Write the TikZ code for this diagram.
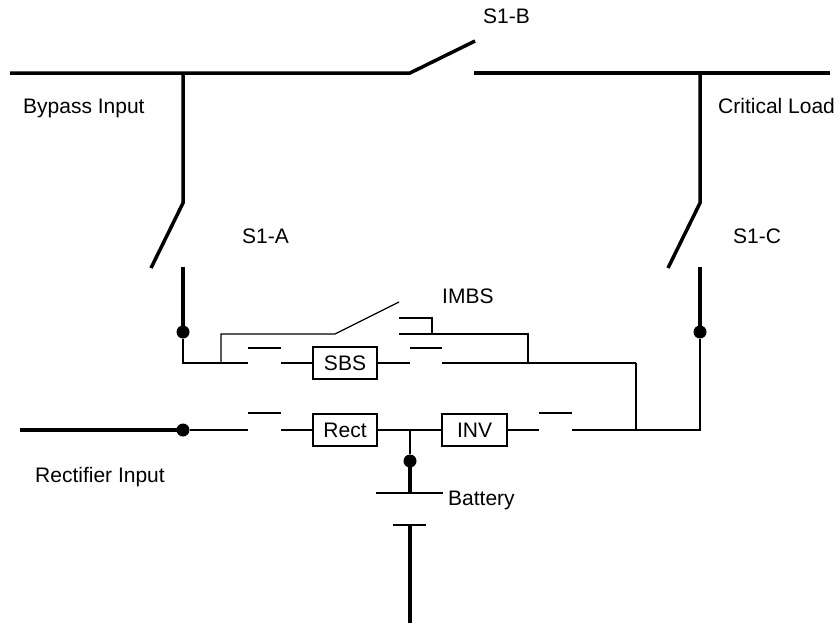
\documentclass[tikz,border=0pt]{standalone}
\usepackage{fontspec}
\setmainfont{Liberation Sans}
\begin{document}
\begin{tikzpicture}[x=1pt,y=-1pt,
  thick line/.style={line width=3.5pt},
  thin line/.style={line width=1.2pt},
  dotmark/.style={circle,fill=black,inner sep=0pt,minimum size=13pt},
  unitbox/.style={draw,line width=1.2pt,minimum width=64pt,minimum height=32pt,inner sep=0pt,font=\fontsize{21}{25}\selectfont},
  lbl/.style={anchor=base west,inner sep=0pt,font=\fontsize{21}{25}\selectfont}]
\useasboundingbox (0,0) rectangle (840,624);
% top bus
\coordinate (tl) at (10,73);
\coordinate (bjL) at (183,73);
\coordinate (sbL) at (410,73);
\coordinate (sbT) at (475,41);
\coordinate (sbR) at (474,73);
\coordinate (cjR) at (700,73);
\coordinate (tr) at (830,73);
\draw[thick line] (tl) -- (sbL) -- (sbT);
\draw[thick line] (sbR) -- (tr);
% S1-A
\coordinate (aP) at (183,203);
\coordinate (aB) at (151,268);
\coordinate (aC) at (183,267);
\node[dotmark] (dA) at (183,332) {};
\draw[thick line] (bjL) -- (aP) -- (aB);
\draw[thick line] (aC) -- (dA.center);
% S1-C
\coordinate (cP) at (700,203);
\coordinate (cB) at (668,268);
\coordinate (cC) at (700,267);
\node[dotmark] (dC) at (700,332) {};
\draw[thick line] (cjR) -- (cP) -- (cB);
\draw[thick line] (cC) -- (dC.center);
% bypass path
\node[unitbox] (sbs) at (345,363) {SBS};
\coordinate (b1) at (183,363);
\coordinate (b2) at (248,363);
\coordinate (b3) at (281,363);
\coordinate (b4) at (410,363);
\coordinate (b5) at (442,363);
\coordinate (b6) at (636,363);
\coordinate (k1a) at (248,348);
\coordinate (k1b) at (281,348);
\coordinate (k2a) at (410,348);
\coordinate (k2b) at (442,348);
\draw[thin line] (dA) -- (b1) -- (b2);
\draw[thin line] (k1a) -- (k1b);
\draw[thin line] (b3) -- (sbs.west);
\draw[thin line] (sbs.east) -- (b4);
\draw[thin line] (k2a) -- (k2b);
\draw[thin line] (b5) -- (b6);
% IMBS frame
\coordinate (f1) at (221,363);
\coordinate (f2) at (221,334);
\coordinate (f3) at (335,334);
\coordinate (f4) at (399,302);
\coordinate (f5) at (399,318);
\coordinate (f6) at (432,318);
\coordinate (f7) at (432,334);
\coordinate (f8) at (399,334);
\coordinate (f9) at (528,334);
\coordinate (f10) at (528,363);
\draw[thin line] (f1) -- (f2) -- (f3) -- (f4);
\draw[thin line] (f5) -- (f6) -- (f7);
\draw[thin line] (f8) -- (f9) -- (f10);
% rectifier path
\node[dotmark] (dR) at (183,430) {};
\coordinate (rin) at (20,430);
\node[unitbox] (rect) at (345,430) {Rect};
\node[unitbox,minimum width=65pt] (inv) at (474.5,430) {INV};
\coordinate (r2) at (248,430);
\coordinate (r3) at (281,430);
\coordinate (kr1) at (248,413);
\coordinate (kr2) at (281,413);
\coordinate (jB) at (410,430);
\coordinate (r5) at (539,430);
\coordinate (r6) at (572,430);
\coordinate (ki1) at (539,413);
\coordinate (ki2) at (572,413);
\coordinate (r7) at (636,430);
\coordinate (r8) at (700,430);
\draw[thick line] (rin) -- (dR.center);
\draw[thin line] (dR) -- (r2);
\draw[thin line] (kr1) -- (kr2);
\draw[thin line] (r3) -- (rect.west);
\draw[thin line] (rect.east) -- (inv.west);
\draw[thin line] (inv.east) -- (r5);
\draw[thin line] (ki1) -- (ki2);
\draw[thin line] (r6) -- (r8) -- (dC);
\draw[thin line] (b6) -- (r7);
% battery
\node[dotmark] (dB) at (410,461) {};
\draw[thin line] (jB) -- (dB);
\coordinate (p1) at (410,493);
\coordinate (p1a) at (376,493);
\coordinate (p1b) at (443,493);
\coordinate (p2) at (410,525);
\coordinate (p2a) at (393,525);
\coordinate (p2b) at (426,525);
\coordinate (gnd) at (410,623);
\draw[thick line] (dB.center) -- (p1);
\draw[thin line] (p1a) -- (p1b);
\draw[thin line] (p2a) -- (p2b);
\draw[thick line] (p2) -- (gnd);
% labels
\node[lbl] (lS1B) at (483,23) {S1-B};
\node[lbl] (lBy) at (23,113) {Bypass Input};
\node[lbl] (lCL) at (718,113) {Critical Load};
\node[lbl] (lS1A) at (242,243) {S1-A};
\node[lbl] (lS1C) at (733,243) {S1-C};
\node[lbl] (lIM) at (442,303) {IMBS};
\node[lbl] (lRI) at (35,482) {Rectifier Input};
\node[lbl] (lBat) at (448,505) {Battery};
\end{tikzpicture}
\end{document}
